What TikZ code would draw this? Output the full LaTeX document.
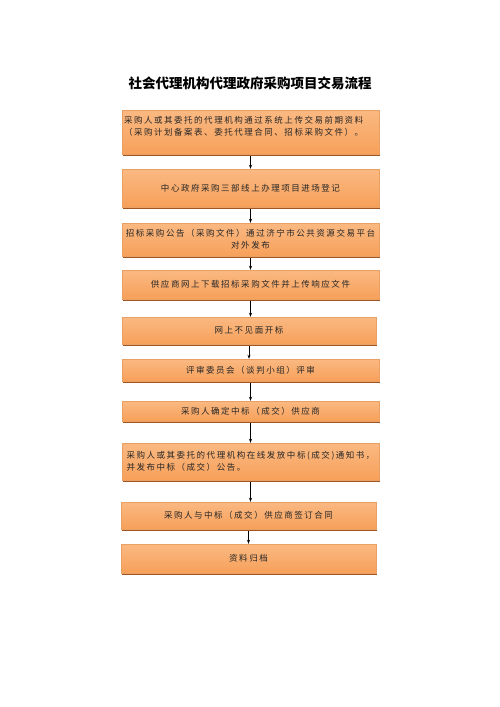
\documentclass[tikz,border=0pt]{standalone}
\usepackage{fontspec}
\setmainfont{Noto Sans CJK SC}
\newfontfamily\cjk[LetterSpace=18]{Noto Sans CJK SC}
\newfontfamily\cjktitle{Noto Sans CJK SC}
\usetikzlibrary{
  arrows.meta,
  positioning,
  shadows
}
\definecolor{boxtop}{RGB}{250,185,130}
\definecolor{boxmid}{RGB}{245,140,55}
\definecolor{boxbot}{RGB}{247,160,90}
\definecolor{boxline}{RGB}{232,160,100}
\definecolor{boxshadow}{RGB}{160,85,35}

\begin{document}
\begin{tikzpicture}[
  x=1pt, y=-1pt,
  every node/.style={font=\cjk\fontsize{8.5}{12}\selectfont, text=black!85},
  stage/.style={draw=boxline, line width=0.4pt, shading=axis,
                top color=boxtop, middle color=boxmid, bottom color=boxbot,
                drop shadow={shadow xshift=1.4pt, shadow yshift=-1.6pt,
                             fill=boxshadow, opacity=1},
                minimum width=257pt, inner xsep=2pt, inner ysep=0pt},
  >={Stealth[length=4pt, width=3pt]}
]

\path[fill=white, use as bounding box] (0,0) rectangle (500,707);

\node[font=\cjktitle\bfseries\fontsize{13.5}{15}\selectfont, text=black] (title)
  at (250,83) {社会代理机构代理政府采购项目交易流程};

\node[stage, minimum height=44pt] (s1) at (250.5,132) {};
\node[anchor=north west, align=left, inner sep=0pt] (t1)
  at ([xshift=2pt, yshift=-6pt]s1.north west)
  {采购人或其委托的代理机构通过系统上传交易前期资料\\
   （采购计划备案表、委托代理合同、招标采购文件）。};

\node[stage, minimum height=38pt] (s2) at (250.5,188)
  {中心政府采购三部线上办理项目进场登记};

\node[stage, minimum height=33pt, align=center] (s3) at (250.5,239.5)
  {招标采购公告（采购文件）通过济宁市公共资源交易平台\\对外发布};

\node[stage, minimum height=29pt] (s4) at (250.5,284.5)
  {供应商网上下载招标采购文件并上传响应文件};

\node[stage, minimum height=27pt, minimum width=254pt] (s5) at (249,330.5)
  {网上不见面开标};

\node[stage, minimum height=22pt] (s6) at (250.5,370)
  {评审委员会（谈判小组）评审};

\node[stage, minimum height=20pt] (s7) at (250.5,411)
  {采购人确定中标（成交）供应商};

\node[stage, minimum height=37pt, align=left] (s8) at (250.5,461.5)
  {采购人或其委托的代理机构在线发放中标(成交)通知书，\\
   并发布中标（成交）公告。};

\node[stage, minimum height=27pt, minimum width=255pt] (s9) at (248.5,515.5)
  {采购人与中标（成交）供应商签订合同};

\node[stage, minimum height=29pt, minimum width=255pt] (s10) at (248.5,558.5)
  {资料归档};

% arrows between the steps
\foreach \a/\b in {s1/s2, s2/s3, s3/s4, s4/s5, s5/s6, s6/s7, s7/s8, s8/s9, s9/s10}
  \draw[->, line width=0.6pt] (\a.south) ++(0,2) -- (\a.south |- \b.north);

\end{tikzpicture}
\end{document}
